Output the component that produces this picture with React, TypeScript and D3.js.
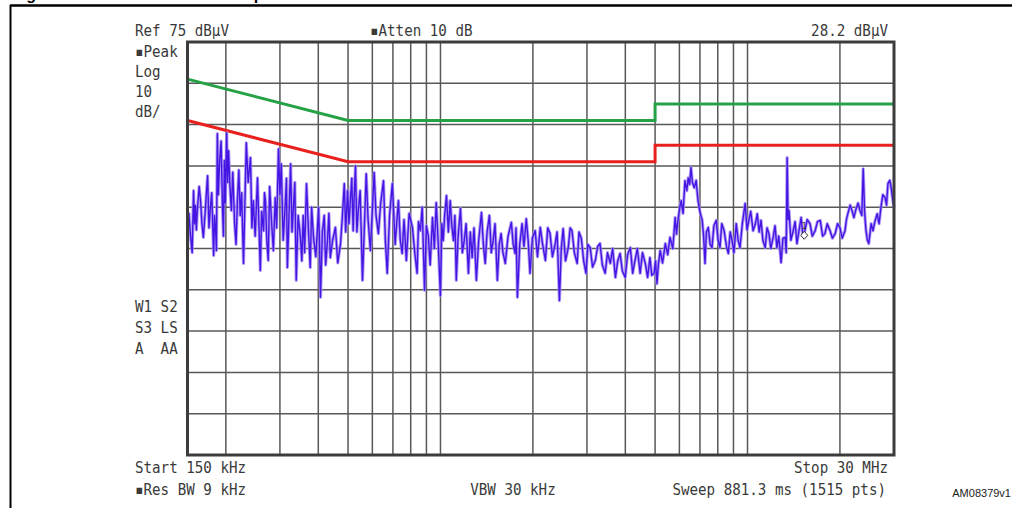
import React from "react";
import * as d3 from "d3";

// ---- analyzer settings ----
const START_HZ = 150e3;
const STOP_HZ = 30e6;
const REF_DB = 75;
const DB_PER_DIV = 10;
const DIVS = 10;
const SWEEP_PTS = 1515;

// vertical log grid (Hz)
const gridFreqsHz = [
  200e3, 300e3, 400e3, 500e3, 600e3, 700e3, 800e3, 900e3,
  1e6, 2e6, 3e6, 4e6, 5e6, 6e6, 7e6, 8e6, 9e6, 10e6, 20e6,
];

// limit lines [Hz, dBµV]
const qpLimitHz = [150e3, 500e3, 5e6, 5e6, 30e6];
const qpLimitDb = [66, 56, 56, 60, 60];
const avgLimitHz = [150e3, 500e3, 5e6, 5e6, 30e6];
const avgLimitDb = [56, 46, 46, 50, 50];

// peak trace: sweep point index and level (dBµV)
const traceIdx = [
  0, 3, 6, 10, 13, 15, 17, 19, 21, 25, 28, 31, 34, 38, 43, 46, 49, 52, 56, 58, 60, 62, 64, 66, 69, 72, 75, 77, 79, 81,
  84, 86, 88, 91, 94, 97, 101, 104, 107, 110, 113, 116, 120, 123, 126, 130, 135, 138, 141, 145, 150, 153, 156, 159, 163, 165,
  167, 170, 173, 176, 180, 184, 188, 191, 195, 198, 201, 205, 210, 212, 214, 217, 221, 224, 227, 230, 233, 237, 242, 245,
  248, 251, 255, 259, 263, 266, 270, 275, 281, 283, 285, 289, 293, 296, 300, 303, 306, 311, 317, 322, 328, 332, 336, 339,
  343, 346, 349, 352, 355, 357, 360, 363, 366, 370, 375, 379, 383, 387, 392, 396, 400, 404, 409, 414, 420, 424, 428, 433,
  439, 445, 452, 456, 460, 464, 469, 475, 482, 487, 492, 495, 499, 503, 508, 512, 516, 520, 525, 529, 533, 537, 542, 545,
  548, 551, 555, 559, 563, 566, 570, 573, 576, 580, 585, 589, 593, 597, 602, 606, 610, 614, 619, 624, 630, 634, 638, 642,
  647, 651, 655, 659, 664, 668, 672, 676, 681, 687, 694, 698, 702, 704, 707, 712, 717, 721, 726, 730, 734, 739, 745, 750,
  756, 761, 767, 772, 777, 782, 788, 792, 797, 801, 805, 810, 816, 820, 824, 829, 835, 839, 844, 849, 854, 858, 863, 868,
  874, 879, 884, 889, 895, 900, 906, 911, 917, 922, 927, 932, 938, 943, 949, 954, 959, 964, 970, 975, 981, 986, 991, 995,
  1000, 1003, 1006, 1009, 1013, 1018, 1024, 1029, 1034, 1040, 1045, 1048, 1051, 1055, 1058, 1062, 1066, 1070, 1073, 1076,
  1079, 1082, 1086, 1090, 1094, 1098, 1103, 1106, 1109, 1112, 1116, 1120, 1124, 1128, 1133, 1137, 1141, 1145, 1150, 1155,
  1159, 1163, 1167, 1171, 1176, 1180, 1184, 1189, 1195, 1199, 1203, 1207, 1212, 1217, 1221, 1225, 1229, 1233, 1238, 1242,
  1246, 1250, 1255, 1259, 1263, 1267, 1272, 1276, 1281, 1283, 1285, 1287, 1289, 1293, 1298, 1302, 1306, 1310, 1315, 1319,
  1323, 1328, 1334, 1339, 1345, 1350, 1356, 1361, 1366, 1371, 1377, 1382, 1388, 1393, 1398, 1403, 1409, 1412, 1415, 1420,
  1424, 1428, 1433, 1437, 1441, 1445, 1448, 1451, 1454, 1457, 1460, 1465, 1469, 1473, 1478, 1482, 1486, 1490, 1495, 1498,
  1501, 1505, 1508, 1511, 1514,
];
const traceDb = [
  26.9, 33.5, 28.6, 24.0, 39.0, 31.0, 35.4, 29.5, 34.2, 40.0, 36.6, 31.0, 27.7, 34.0, 42.6, 30.0, 34.9, 38.5, 23.3, 33.0, 30.1, 24.5, 52.8, 38.0, 46.3, 51.0, 34.9, 28.0, 46.3, 36.0,
  53.0, 41.0, 48.7, 40.0, 34.2, 43.5, 31.0, 26.0, 36.6, 44.0, 33.0, 38.5, 21.4, 36.0, 50.6, 41.0, 47.0, 30.0, 36.6, 28.0, 42.1, 31.0, 19.7, 34.0, 29.3, 38.5,
  36.6, 27.0, 22.1, 40.0, 31.8, 24.5, 37.3, 30.0, 49.1, 38.0, 45.5, 27.0, 36.6, 42.0, 20.4, 31.0, 45.5, 29.0, 34.9, 41.0, 17.3, 33.0, 27.7, 22.0,
  33.0, 24.0, 40.7, 30.0, 20.4, 35.0, 27.7, 23.0, 34.9, 26.0, 13.2, 29.0, 33.0, 21.0, 26.9, 33.5, 22.8, 27.0, 30.1, 21.5, 26.2, 33.0, 40.7, 29.0,
  39.0, 31.0, 36.6, 42.0, 29.3, 37.0, 45.0, 29.0, 34.2, 39.0, 17.3, 30.0, 43.1, 32.0, 24.5, 34.0, 43.4, 33.0, 28.6, 36.0, 41.4, 27.0, 19.0, 33.0,
  40.7, 26.0, 36.6, 27.0, 23.8, 32.0, 22.1, 33.5, 30.1, 24.0, 19.0, 31.5, 29.3, 35.0, 14.9, 30.5, 28.1, 21.0, 32.5, 25.0, 36.1, 27.0, 13.6, 31.0,
  26.9, 33.0, 37.8, 29.0, 36.6, 31.0, 26.9, 33.0, 17.3, 28.0, 34.7, 24.0, 26.9, 31.0, 19.0, 29.0, 22.8, 30.0, 17.3, 27.0, 33.7, 26.0, 21.4, 29.0,
  33.0, 24.0, 26.9, 31.0, 17.3, 26.0, 28.6, 24.0, 21.4, 28.0, 31.3, 26.0, 23.8, 30.0, 13.2, 26.0, 31.0, 25.5, 32.2, 27.0, 19.0, 27.5, 29.3, 23.0,
  30.1, 26.0, 22.1, 30.0, 28.6, 23.0, 26.2, 29.0, 12.4, 25.0, 29.8, 22.0, 25.2, 30.0, 29.3, 24.0, 21.4, 29.0, 27.4, 22.0, 19.0, 26.0, 25.2, 20.5,
  22.1, 25.5, 26.2, 21.0, 19.0, 24.0, 21.4, 25.0, 18.0, 22.0, 23.8, 19.5, 18.0, 23.5, 25.2, 19.0, 22.1, 25.0, 19.0, 24.0, 21.4, 18.0, 22.8, 18.5,
  19.0, 22.0, 16.5, 21.0, 24.5, 21.5, 26.2, 23.5, 27.7, 25.0, 32.5, 28.5, 31.8, 35.0, 36.6, 33.5, 41.4, 39.0, 42.1, 40.5,
  44.6, 41.0, 39.7, 41.5, 36.6, 34.0, 31.8, 28.0, 21.4, 29.0, 30.1, 26.0, 25.2, 30.5, 31.8, 27.0, 25.2, 31.0, 29.3, 25.5,
  23.8, 29.0, 26.9, 24.0, 31.0, 27.0, 25.2, 31.0, 35.9, 29.5, 31.8, 34.0, 29.3, 31.0, 33.4, 29.0, 31.8, 27.0, 25.2, 30.0,
  28.6, 25.0, 27.7, 30.5, 25.2, 28.0, 21.6, 27.5, 27.7, 24.0, 47.0, 32.0, 34.2, 27.0, 29.3, 31.5, 26.2, 29.0, 32.5, 28.0,
  29.3, 32.0, 31.0, 28.0, 29.3, 31.5, 31.8, 28.0, 28.6, 31.0, 29.3, 27.5, 28.6, 31.0, 30.1, 27.5, 29.3, 32.0, 33.4, 35.5,
  34.2, 32.5, 34.7, 36.0, 34.2, 33.0, 44.3, 34.0, 29.3, 27.0, 26.2, 31.0, 29.3, 31.5, 33.4, 31.0, 34.9, 38.0, 37.3, 35.5,
  40.7, 41.5, 39.7, 37.0, 34.9,
];

const markerHz = 15.3e6;
const markerDb = 28.2;
const markerLabel = "1";

// screen annotations
const topLeftText = "Ref 75 dBµV";
const topMidText = "▪Atten 10 dB";
const topRightText = "28.2 dBµV";
const sideTopTexts = ["▪Peak", "Log", "10", "dB/"];
const sideBottomTexts = ["W1 S2", "S3 LS", "A  AA"];
const bottomLeftTexts = ["Start 150 kHz", "▪Res BW 9 kHz"];
const bottomMidText = "VBW 30 kHz";
const bottomRightTexts = ["Stop 30 MHz", "Sweep 881.3 ms (1515 pts)"];
const figureId = "AM08379v1";
const figureTitle = "Figure 10.   Conducted emission peak measurement";

const W = 1016;
const H = 508;
const PL = 187.5;
const PR = 894;
const PT = 42;
const PB = 455;

const MONO = "'DejaVu Sans Mono', monospace";
const TXT = "#3a3a3a";

function Lbl({ x, y, children, anchor = "start" }: { x: number; y: number; children: any; anchor?: string }) {
  return (
    <text
      transform={`translate(${x},${y}) scale(1,1.12)`}
      fontFamily={MONO}
      fontSize={14.2}
      fill={TXT}
      textAnchor={anchor as any}
      style={{ whiteSpace: "pre" }}
    >
      {children}
    </text>
  );
}

export default function App() {
  const x = d3.scaleLog().domain([START_HZ, STOP_HZ]).range([PL, PR]);
  const y = d3
    .scaleLinear()
    .domain([REF_DB - DB_PER_DIV * DIVS, REF_DB])
    .range([PB, PT]);

  const hLines = d3.range(1, DIVS).map((k) => REF_DB - k * DB_PER_DIV);

  const lim = d3
    .line<[number, number]>()
    .x((d) => x(d[0]))
    .y((d) => y(d[1]));

  const qp: [number, number][] = qpLimitHz.map((f, i) => [f, qpLimitDb[i]]);
  const av: [number, number][] = avgLimitHz.map((f, i) => [f, avgLimitDb[i]]);

  const n = Math.min(traceIdx.length, traceDb.length);
  const tracePts: [number, number][] = traceIdx.slice(0, n).map((idx, i) => [
    START_HZ * Math.pow(STOP_HZ / START_HZ, idx / (SWEEP_PTS - 1)),
    traceDb[i],
  ]);
  const tracePath = lim(tracePts) || "";

  const mx = x(markerHz);
  const my = y(markerDb);

  return (
    <svg width={W} height={H} style={{ position: "absolute", left: 0, top: 0, background: "#fff" }}>
      <rect x={0} y={0} width={W} height={H} fill="#fff" />
      {/* figure title (cut off at top edge as in the source) */}
      <text x={12} y={0} fontFamily="'Liberation Sans', Arial, sans-serif" fontWeight="bold" fontSize={16} fill="#000">
        {figureTitle}
      </text>
      {/* outer figure box */}
      <line x1={10} x2={1012} y1={5.5} y2={5.5} stroke="#000" strokeWidth={2.5} />
      <line x1={10.5} x2={10.5} y1={5} y2={H} stroke="#000" strokeWidth={2} />

      {/* grid */}
      <g stroke="#585858" strokeWidth={1.5}>
        {gridFreqsHz.map((f) => (
          <line key={f} x1={x(f)} x2={x(f)} y1={PT} y2={PB} />
        ))}
        {hLines.map((v) => (
          <line key={v} x1={PL} x2={PR} y1={y(v)} y2={y(v)} />
        ))}
      </g>

      {/* limit lines */}
      <path d={lim(qp) || ""} fill="none" stroke="#25a146" strokeWidth={3} />
      <path d={lim(av) || ""} fill="none" stroke="#e8211f" strokeWidth={3} />

      {/* trace */}
      <path d={tracePath} fill="none" stroke="#a48bf3" strokeWidth={3.2} strokeLinejoin="round" opacity={0.85} />
      <path d={tracePath} fill="none" stroke="#4515e4" strokeWidth={1.4} strokeLinejoin="round" />

      {/* marker */}
      <path
        d={`M${mx},${my - 4} L${mx + 3.5},${my} L${mx},${my + 4} L${mx - 3.5},${my} Z`}
        fill="#fff"
        stroke="#333"
        strokeWidth={1}
      />
      <text x={mx} y={my - 6} fontFamily={MONO} fontSize={8} fill="#333" textAnchor="middle">
        {markerLabel}
      </text>

      {/* plot frame */}
      <rect x={PL} y={PT} width={PR - PL} height={PB - PT} fill="none" stroke="#3c3c3c" strokeWidth={3} />

      {/* annotations */}
      <Lbl x={135} y={36}>{topLeftText}</Lbl>
      <Lbl x={370} y={36}>{topMidText}</Lbl>
      <Lbl x={888} y={36} anchor="end">{topRightText}</Lbl>
      {sideTopTexts.map((t, i) => (
        <Lbl key={t} x={135} y={57 + i * 20}>{t}</Lbl>
      ))}
      {sideBottomTexts.map((t, i) => (
        <Lbl key={t} x={135} y={312 + i * 21}>{t}</Lbl>
      ))}
      {bottomLeftTexts.map((t, i) => (
        <Lbl key={t} x={135} y={473 + i * 22}>{t}</Lbl>
      ))}
      <Lbl x={513} y={495} anchor="middle">{bottomMidText}</Lbl>
      {bottomRightTexts.map((t, i) => (
        <Lbl key={t} x={i === 0 ? 888 : 886} y={473 + i * 22} anchor="end">{t}</Lbl>
      ))}
      <text x={1011} y={497} fontFamily="'Liberation Sans', Arial, sans-serif" fontSize={11} fill="#222" textAnchor="end">
        {figureId}
      </text>
    </svg>
  );
}
